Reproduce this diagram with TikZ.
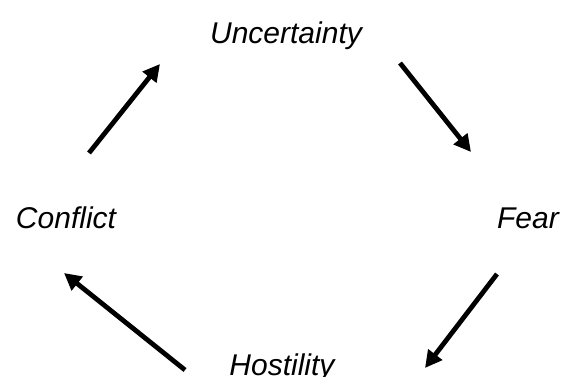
\documentclass[tikz,border=0pt]{standalone}
\usepackage{fontspec}
\setmainfont{Liberation Sans}
\usepackage{tikz}
\usetikzlibrary{arrows.meta, positioning}

\tikzset{
  stage/.style={font=\fontsize{30}{34}\selectfont\itshape, inner sep=0pt, anchor=base},
  cyclearrow/.style={-{Triangle[length=17pt,width=17pt]}, line width=4.8pt, black}
}

\begin{document}
\begin{tikzpicture}[x=1pt, y=1pt]
  \useasboundingbox (0, 0) rectangle (563, 376);
  % Labels
  \node[stage] (uncert) at (286, 333) {Uncertainty};
  \node[stage] (fear) at (528, 148) {Fear};
  \node[stage] (host) at (282, 1) {Hostility};
  \node[stage] (confl) at (66, 148) {Conflict};
  % Arrow ends
  \coordinate (a1s) at (89, 223);
  \coordinate (a1e) at (160, 312);
  \coordinate (a2s) at (400, 313);
  \coordinate (a2e) at (471, 224);
  \coordinate (a3s) at (497, 102);
  \coordinate (a3e) at (425, 8);
  \coordinate (a4s) at (185, 6);
  \coordinate (a4e) at (64, 103);
  % Arrows
  \draw[cyclearrow] (a1s) -- (a1e);
  \draw[cyclearrow] (a2s) -- (a2e);
  \draw[cyclearrow] (a3s) -- (a3e);
  \draw[cyclearrow] (a4s) -- (a4e);
\end{tikzpicture}
\end{document}
